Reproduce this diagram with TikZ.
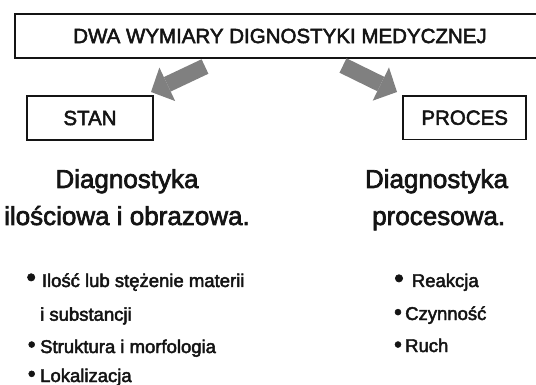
\documentclass[tikz,border=0pt]{standalone}
\usepackage{fontspec}
\setmainfont{Liberation Sans}[FakeBold=2.5]
\usetikzlibrary{arrows.meta}
\definecolor{arrowgray}{RGB}{128,128,128}
\definecolor{ink}{RGB}{20,20,20}
\begin{document}
\begin{tikzpicture}[x=1pt,y=-1pt,
  box/.style={draw=ink, line width=1.7pt, inner sep=0pt, text=ink, font=\fontsize{20.5}{24}\selectfont},
  head/.style={text=ink, inner sep=0pt, font=\fontsize{26}{30}\selectfont, anchor=base},
  item/.style={text=ink, inner sep=0pt, font=\fontsize{18.5}{22}\selectfont, anchor=base west},
  dot/.style={text=ink, inner sep=0pt, font=\fontsize{22}{24}\selectfont, anchor=center},
  bigdot/.style={dot, font=\fontsize{27}{30}\selectfont},
  fatarrow/.style={draw=arrowgray, line width=16pt, -{Triangle[length=18pt 0 0, width=37pt 0 0, line width=0pt]}}
]
\useasboundingbox (0,0) rectangle (536,385);
\begin{scope}
\clip (0,0) rectangle (536,385);
\node[box, minimum width=530pt, minimum height=44pt] (title) at (280,36) {DWA WYMIARY DIGNOSTYKI MEDYCZNEJ};
\end{scope}
\node[box, minimum width=126pt, minimum height=44pt] (stan) at (90,118) {STAN};
\node[box, minimum width=123pt, minimum height=43.5pt] (proces) at (464.7,117.7) {PROCES};
\coordinate (l1) at (205,66.5);
\coordinate (l2) at (151,92);
\coordinate (r1) at (343,65.5);
\coordinate (r2) at (397,92);
\draw[fatarrow] (l1) -- (l2);
\draw[fatarrow] (r1) -- (r2);
\node[head] (h1) at (127,188) {Diagnostyka};
\node[head] (h2) at (127,225) {ilościowa i obrazowa.};
\node[head] (h3) at (436.5,188) {Diagnostyka};
\node[head] (h4) at (438.7,225) {procesowa.};
\node[bigdot] (b1) at (31.2,280) {•};
\node[item] (t1) at (41.7,287) {Ilość lub stężenie materii};
\node[item] (t1b) at (40,320.7) {i substancji};
\node[dot] (b2) at (31.7,346.7) {•};
\node[item] (t2) at (40,353) {Struktura i morfologia};
\node[dot] (b3) at (31.7,376) {•};
\node[item] (t3) at (40,382) {Lokalizacja};
\node[bigdot] (b4) at (399,281) {•};
\node[item] (t4) at (411.7,287) {Reakcja};
\node[dot] (b5) at (398,314.3) {•};
\node[item] (t5) at (405,320) {Czynność};
\node[dot] (b6) at (398,346.7) {•};
\node[item] (t6) at (405,352) {Ruch};
\end{tikzpicture}
\end{document}
